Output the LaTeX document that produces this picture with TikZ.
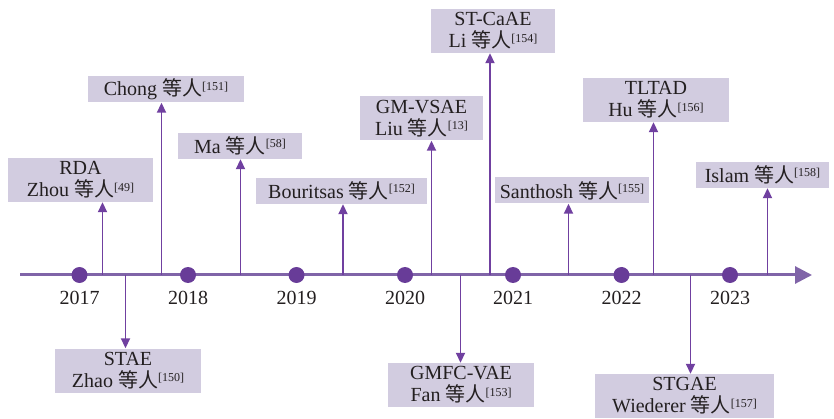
\documentclass[tikz,border=0pt]{standalone}
\usepackage{fontspec}
\setmainfont{Liberation Serif}
\newfontfamily\cjk{Noto Sans CJK SC}
\usetikzlibrary{arrows.meta}

\definecolor{boxfill}{RGB}{210,204,224}
\definecolor{arrowcol}{RGB}{112,64,160}
\definecolor{axiscol}{RGB}{128,100,168}
\definecolor{dotcol}{RGB}{104,60,152}
\definecolor{textcol}{RGB}{35,31,32}

% "等人" followed by a bracketed reference number
\newcommand{\etalref}[1]{{\cjk 等人}\raisebox{0.62ex}{\fontsize{12}{12}\selectfont[#1]}}

\tikzset{
  evbox/.style={fill=boxfill, text=textcol, align=center, inner sep=0pt,
    font=\fontsize{20}{22}\selectfont},
  onebox/.style={evbox, minimum height=26pt},
  twobox/.style={evbox, minimum height=44pt},
  linkarrow/.style={draw=arrowcol, line width=1.8pt,
    -{Triangle[width=9pt,length=10pt]}, arrowcol},
  axisline/.style={draw=axiscol, line width=3pt,
    -{Triangle[width=17pt,length=17pt]}, axiscol},
  yeardot/.style={circle, fill=dotcol, minimum size=16pt, inner sep=0pt},
  yearlabel/.style={text=textcol, font=\fontsize{20}{22}\selectfont, inner sep=0pt}
}

\begin{document}
\begin{tikzpicture}[x=1pt, y=-1pt]
\useasboundingbox (0,0) rectangle (834,419);

% time axis
\coordinate (axstart) at (20,275);
\coordinate (axend) at (812,275);
\draw[axisline] (axstart) -- (axend);

% years
\foreach \yr/\xx in {2017/79.5, 2018/188, 2019/296.5, 2020/405, 2021/513, 2022/621.5, 2023/730} {
  \node[yeardot] (d\yr) at (\xx,275) {};
  \node[yearlabel] (l\yr) at (\xx,298) {\yr};
}

% events above the axis
\node[twobox, minimum width=145pt] (rda) at (80.5,180) {RDA\\Zhou \etalref{49}};
\node[onebox, minimum width=156pt] (chong) at (166,89.5) {Chong \etalref{151}};
\node[onebox, minimum width=124pt] (ma) at (240,146) {Ma \etalref{58}};
\node[onebox, minimum width=171pt] (bour) at (341.5,191) {Bouritsas \etalref{152}};
\node[twobox, minimum width=123pt] (gmvsae) at (421.5,118.5) {GM-VSAE\\Liu \etalref{13}};
\node[twobox, minimum width=124pt] (stcaae) at (493,31) {ST-CaAE\\Li \etalref{154}};
\node[onebox, minimum width=154pt] (santh) at (572,190.5) {Santhosh \etalref{155}};
\node[twobox, minimum width=146pt] (tltad) at (656,100) {TLTAD\\Hu \etalref{156}};
\node[onebox, minimum width=133pt] (islam) at (762.5,175) {Islam \etalref{158}};

% events below the axis
\node[twobox, minimum width=146pt] (stae) at (128,370.5) {STAE\\Zhao \etalref{150}};
\node[twobox, minimum width=146pt] (gmfc) at (461,385) {GMFC-VAE\\Fan \etalref{153}};
\node[twobox, minimum width=179pt] (stgae) at (684.5,396) {STGAE\\Wiederer \etalref{157}};

% attachment points on the axis
\coordinate (p-rda) at (102.5,275);
\coordinate (p-stae) at (125.5,275);
\coordinate (p-chong) at (161.5,275);
\coordinate (p-ma) at (240.5,275);
\coordinate (p-bour) at (343,275);
\coordinate (p-gmvsae) at (431.5,275);
\coordinate (p-gmfc) at (460.5,275);
\coordinate (p-stcaae) at (490,275);
\coordinate (p-santh) at (568.5,275);
\coordinate (p-tltad) at (653.5,275);
\coordinate (p-stgae) at (690.5,275);
\coordinate (p-islam) at (767.5,275);

% connectors
\foreach \ev in {rda, chong, ma, bour, gmvsae, stcaae, santh, tltad, islam}
  \draw[linkarrow] (p-\ev) -- (p-\ev |- \ev.south);
\foreach \ev in {stae, gmfc, stgae}
  \draw[linkarrow] (p-\ev) -- (p-\ev |- \ev.north);
\end{tikzpicture}
\end{document}
